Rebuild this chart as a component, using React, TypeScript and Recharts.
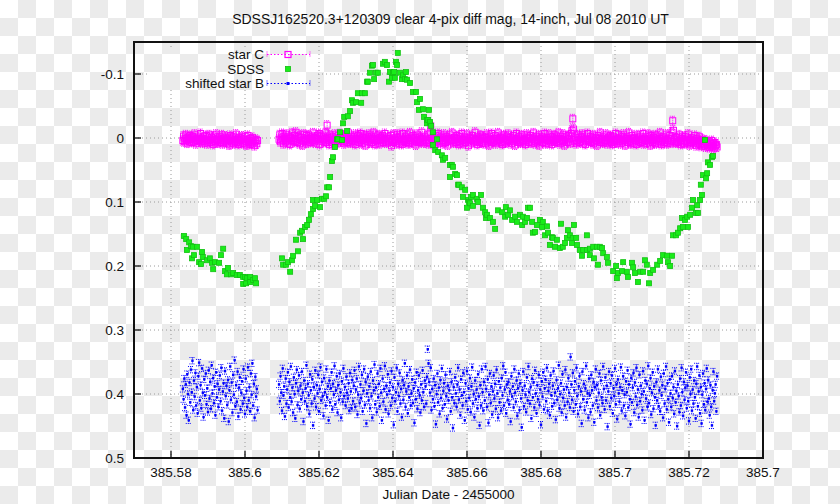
import React from 'react';
import { ScatterChart, Scatter, XAxis, YAxis, CartesianGrid, ErrorBar, ReferenceArea } from 'recharts';

const TITLE = 'SDSSJ162520.3+120309 clear 4-pix diff mag, 14-inch, Jul 08 2010 UT';
const X_LABEL = 'Julian Date - 2455000';

const X_DOMAIN = [385.57, 385.74];
const Y_DOMAIN = [-0.15, 0.5];
const X_TICKS = [385.58, 385.6, 385.62, 385.64, 385.66, 385.68, 385.7, 385.72, 385.74];
const X_TICK_LABELS = ['385.58', '385.6', '385.62', '385.64', '385.66', '385.68', '385.7', '385.72', '385.7'];
const Y_TICKS = [-0.1, 0, 0.1, 0.2, 0.3, 0.4, 0.5];
const Y_TICK_LABELS = ['-0.1', '0', '0.1', '0.2', '0.3', '0.4', '0.5'];

// frame times shared by the two comparison stars
const FRAME_JD = [
  385.5832, 385.5834, 385.5836, 385.5838, 385.5840, 385.5842, 385.5844, 385.5846, 385.5848, 385.5850,
  385.5852, 385.5854, 385.5856, 385.5858, 385.5860, 385.5862, 385.5864, 385.5866, 385.5868, 385.5870,
  385.5872, 385.5874, 385.5876, 385.5878, 385.5880, 385.5882, 385.5884, 385.5886, 385.5888, 385.5890,
  385.5892, 385.5894, 385.5896, 385.5898, 385.5900, 385.5902, 385.5904, 385.5906, 385.5908, 385.5910,
  385.5912, 385.5914, 385.5916, 385.5918, 385.5920, 385.5922, 385.5924, 385.5926, 385.5928, 385.5930,
  385.5932, 385.5934, 385.5936, 385.5938, 385.5940, 385.5942, 385.5944, 385.5946, 385.5948, 385.5950,
  385.5952, 385.5954, 385.5956, 385.5958, 385.5960, 385.5962, 385.5964, 385.5966, 385.5968, 385.5970,
  385.5972, 385.5974, 385.5976, 385.5978, 385.5980, 385.5982, 385.5984, 385.5986, 385.5988, 385.5990,
  385.5992, 385.5994, 385.5996, 385.5998, 385.6000, 385.6002, 385.6004, 385.6006, 385.6008, 385.6010,
  385.6012, 385.6014, 385.6016, 385.6018, 385.6020, 385.6022, 385.6024, 385.6026, 385.6028, 385.6030,
  385.6032, 385.6034,
  385.6092, 385.6094, 385.6096, 385.6098, 385.6100, 385.6102, 385.6104, 385.6106, 385.6108, 385.6110,
  385.6112, 385.6114, 385.6116, 385.6118, 385.6120, 385.6122, 385.6124, 385.6126, 385.6128, 385.6130,
  385.6132, 385.6134, 385.6136, 385.6138, 385.6140, 385.6142, 385.6144, 385.6146, 385.6148, 385.6150,
  385.6152, 385.6154, 385.6156, 385.6158, 385.6160, 385.6162, 385.6164, 385.6166, 385.6168, 385.6170,
  385.6172, 385.6174, 385.6176, 385.6178, 385.6180, 385.6182, 385.6184, 385.6186, 385.6188, 385.6190,
  385.6192, 385.6194, 385.6196, 385.6198, 385.6200, 385.6202, 385.6204, 385.6206, 385.6208, 385.6210,
  385.6212, 385.6214, 385.6216, 385.6218, 385.6220, 385.6222, 385.6224, 385.6226, 385.6228, 385.6230,
  385.6232, 385.6234, 385.6236, 385.6238, 385.6240, 385.6242, 385.6244, 385.6246, 385.6248, 385.6250,
  385.6252, 385.6254, 385.6256, 385.6258, 385.6260, 385.6262, 385.6264, 385.6266, 385.6268, 385.6270,
  385.6272, 385.6274, 385.6276, 385.6278, 385.6280, 385.6282, 385.6284, 385.6286, 385.6288, 385.6290,
  385.6292, 385.6294, 385.6296, 385.6298, 385.6300, 385.6302, 385.6304, 385.6306, 385.6308, 385.6310,
  385.6312, 385.6314, 385.6316, 385.6318, 385.6320, 385.6322, 385.6324, 385.6326, 385.6328, 385.6330,
  385.6332, 385.6334, 385.6336, 385.6338, 385.6340, 385.6342, 385.6344, 385.6346, 385.6348, 385.6350,
  385.6352, 385.6354, 385.6356, 385.6358, 385.6360, 385.6362, 385.6364, 385.6366, 385.6368, 385.6370,
  385.6372, 385.6374, 385.6376, 385.6378, 385.6380, 385.6382, 385.6384, 385.6386, 385.6388, 385.6390,
  385.6392, 385.6394, 385.6396, 385.6398, 385.6400, 385.6402, 385.6404, 385.6406, 385.6408, 385.6410,
  385.6412, 385.6414, 385.6416, 385.6418, 385.6420, 385.6422, 385.6424, 385.6426, 385.6428, 385.6430,
  385.6432, 385.6434, 385.6436, 385.6438, 385.6440, 385.6442, 385.6444, 385.6446, 385.6448, 385.6450,
  385.6452, 385.6454, 385.6456, 385.6458, 385.6460, 385.6462, 385.6464, 385.6466, 385.6468, 385.6470,
  385.6472, 385.6474, 385.6476, 385.6478, 385.6480, 385.6482, 385.6484, 385.6486, 385.6488, 385.6490,
  385.6492, 385.6494, 385.6496, 385.6498, 385.6500, 385.6502, 385.6504, 385.6506, 385.6508, 385.6510,
  385.6512, 385.6514, 385.6516, 385.6518, 385.6520, 385.6522, 385.6524, 385.6526, 385.6528, 385.6530,
  385.6532, 385.6534, 385.6536, 385.6538, 385.6540, 385.6542, 385.6544, 385.6546, 385.6548, 385.6550,
  385.6552, 385.6554, 385.6556, 385.6558, 385.6560, 385.6562, 385.6564, 385.6566, 385.6568, 385.6570,
  385.6572, 385.6574, 385.6576, 385.6578, 385.6580, 385.6582, 385.6584, 385.6586, 385.6588, 385.6590,
  385.6592, 385.6594, 385.6596, 385.6598, 385.6600, 385.6602, 385.6604, 385.6606, 385.6608, 385.6610,
  385.6612, 385.6614, 385.6616, 385.6618, 385.6620, 385.6622, 385.6624, 385.6626, 385.6628, 385.6630,
  385.6632, 385.6634, 385.6636, 385.6638, 385.6640, 385.6642, 385.6644, 385.6646, 385.6648, 385.6650,
  385.6652, 385.6654, 385.6656, 385.6658, 385.6660, 385.6662, 385.6664, 385.6666, 385.6668, 385.6670,
  385.6672, 385.6674, 385.6676, 385.6678, 385.6680, 385.6682, 385.6684, 385.6686, 385.6688, 385.6690,
  385.6692, 385.6694, 385.6696, 385.6698, 385.6700, 385.6702, 385.6704, 385.6706, 385.6708, 385.6710,
  385.6712, 385.6714, 385.6716, 385.6718, 385.6720, 385.6722, 385.6724, 385.6726, 385.6728, 385.6730,
  385.6732, 385.6734, 385.6736, 385.6738, 385.6740, 385.6742, 385.6744, 385.6746, 385.6748, 385.6750,
  385.6752, 385.6754, 385.6756, 385.6758, 385.6760, 385.6762, 385.6764, 385.6766, 385.6768, 385.6770,
  385.6772, 385.6774, 385.6776, 385.6778, 385.6780, 385.6782, 385.6784, 385.6786, 385.6788, 385.6790,
  385.6792, 385.6794, 385.6796, 385.6798, 385.6800, 385.6802, 385.6804, 385.6806, 385.6808, 385.6810,
  385.6812, 385.6814, 385.6816, 385.6818, 385.6820, 385.6822, 385.6824, 385.6826, 385.6828, 385.6830,
  385.6832, 385.6834, 385.6836, 385.6838, 385.6840, 385.6842, 385.6844, 385.6846, 385.6848, 385.6850,
  385.6852, 385.6854, 385.6856, 385.6858, 385.6860, 385.6862, 385.6864, 385.6866, 385.6868, 385.6870,
  385.6872, 385.6874, 385.6876, 385.6878, 385.6880, 385.6882, 385.6884, 385.6886, 385.6888, 385.6890,
  385.6892, 385.6894, 385.6896, 385.6898, 385.6900, 385.6902, 385.6904, 385.6906, 385.6908, 385.6910,
  385.6912, 385.6914, 385.6916, 385.6918, 385.6920, 385.6922, 385.6924, 385.6926, 385.6928, 385.6930,
  385.6932, 385.6934, 385.6936, 385.6938, 385.6940, 385.6942, 385.6944, 385.6946, 385.6948, 385.6950,
  385.6952, 385.6954, 385.6956, 385.6958, 385.6960, 385.6962, 385.6964, 385.6966, 385.6968, 385.6970,
  385.6972, 385.6974, 385.6976, 385.6978, 385.6980, 385.6982, 385.6984, 385.6986, 385.6988, 385.6990,
  385.6992, 385.6994, 385.6996, 385.6998, 385.7000, 385.7002, 385.7004, 385.7006, 385.7008, 385.7010,
  385.7012, 385.7014, 385.7016, 385.7018, 385.7020, 385.7022, 385.7024, 385.7026, 385.7028, 385.7030,
  385.7032, 385.7034, 385.7036, 385.7038, 385.7040, 385.7042, 385.7044, 385.7046, 385.7048, 385.7050,
  385.7052, 385.7054, 385.7056, 385.7058, 385.7060, 385.7062, 385.7064, 385.7066, 385.7068, 385.7070,
  385.7072, 385.7074, 385.7076, 385.7078, 385.7080, 385.7082, 385.7084, 385.7086, 385.7088, 385.7090,
  385.7092, 385.7094, 385.7096, 385.7098, 385.7100, 385.7102, 385.7104, 385.7106, 385.7108, 385.7110,
  385.7112, 385.7114, 385.7116, 385.7118, 385.7120, 385.7122, 385.7124, 385.7126, 385.7128, 385.7130,
  385.7132, 385.7134, 385.7136, 385.7138, 385.7140, 385.7142, 385.7144, 385.7146, 385.7148, 385.7150,
  385.7152, 385.7154, 385.7156, 385.7158, 385.7160, 385.7162, 385.7164, 385.7166, 385.7168, 385.7170,
  385.7172, 385.7174, 385.7176, 385.7178, 385.7180, 385.7182, 385.7184, 385.7186, 385.7188, 385.7190,
  385.7192, 385.7194, 385.7196, 385.7198, 385.7200, 385.7202, 385.7204, 385.7206, 385.7208, 385.7210,
  385.7212, 385.7214, 385.7216, 385.7218, 385.7220, 385.7222, 385.7224, 385.7226, 385.7228, 385.7230,
  385.7232, 385.7234, 385.7236, 385.7238, 385.7240, 385.7242, 385.7244, 385.7246, 385.7248, 385.7250,
  385.7252, 385.7254, 385.7256, 385.7258, 385.7260, 385.7262, 385.7264, 385.7266, 385.7268, 385.7270,
  385.7272, 385.7274, 385.7276,
];

const STAR_C_MAG = [
  0.004, -0.003, 0.006, 0.001, -0.005, 0.003, 0.008, -0.001, 0.002, 0.005,
  -0.004, 0.002, 0.007, -0.002, 0.000, 0.005, -0.006, 0.003, 0.009, 0.001,
  0.004, -0.003, 0.006, 0.002, -0.007, 0.005, 0.001, 0.008, -0.002, 0.003,
  0.006, -0.004, 0.002, 0.009, 0.000, 0.004, -0.005, 0.007, 0.002, -0.001,
  0.005, 0.010, -0.003, 0.003, 0.006, -0.006, 0.002, 0.008, 0.000, 0.004,
  -0.002, 0.007, 0.003, -0.005, 0.009, 0.001, 0.005, -0.003, 0.006, 0.002,
  0.008, -0.001, 0.004, 0.011, -0.004, 0.003, 0.006, 0.000, 0.009, -0.002,
  0.005, 0.002, -0.006, 0.007, 0.003, 0.010, -0.001, 0.004, 0.008, 0.001,
  -0.003, 0.006, 0.002, 0.009, -0.002, 0.005, 0.011, 0.003, -0.004, 0.007,
  0.004, 0.010, 0.001, 0.006, -0.001, 0.008, 0.003, 0.012, 0.005, 0.002,
  0.009, 0.004,
  0.002, -0.005, 0.006, 0.000, -0.007, 0.004, 0.009, -0.002, 0.001, 0.005,
  -0.006, 0.003, 0.008, -0.003, 0.000, 0.010, -0.001, 0.004, -0.008, 0.006,
  0.001, -0.004, 0.005, -0.009, 0.003, 0.007, -0.002, 0.000, 0.009, -0.005,
  0.004, -0.001, 0.011, 0.006, -0.006, 0.002, 0.005, -0.004, 0.008, 0.001,
  -0.005, 0.003, 0.000, 0.007, -0.002, 0.004, -0.008, 0.002, 0.006, -0.001,
  0.008, 0.001, -0.004, 0.003, -0.007, 0.010, 0.000, -0.003, 0.005, 0.002,
  -0.003, 0.006, 0.001, -0.008, 0.007, -0.020, -0.001, 0.004, 0.010, -0.005,
  0.002, 0.007, -0.002, 0.000, 0.005, 0.011, -0.006, 0.003, 0.001, 0.008,
  -0.004, 0.004, 0.000, -0.007, 0.006, 0.002, -0.002, 0.005, 0.009, -0.001,
  0.003, -0.005, 0.001, 0.007, -0.008, 0.004, 0.000, 0.008, -0.003, 0.003,
  0.006, -0.002, 0.003, 0.010, -0.006, 0.001, 0.005, -0.004, 0.007, 0.000,
  -0.007, 0.004, 0.009, -0.001, 0.002, 0.006, -0.005, 0.011, 0.001, -0.003,
  0.005, 0.000, -0.006, 0.008, 0.003, -0.002, 0.007, 0.001, -0.008, 0.004,
  0.010, -0.003, 0.002, 0.006, -0.005, 0.003, 0.009, -0.001, 0.004, 0.000,
  -0.004, 0.007, 0.002, -0.007, 0.005, 0.001, 0.008, -0.002, 0.006, 0.003,
  0.001, -0.004, 0.012, 0.004, 0.007, -0.006, 0.002, 0.005, -0.001, 0.009,
  -0.006, 0.003, 0.000, 0.008, -0.003, 0.005, 0.010, -0.007, 0.002, 0.006,
  0.003, -0.002, 0.007, -0.005, 0.001, 0.009, 0.004, -0.008, 0.006, 0.000,
  0.008, -0.004, 0.002, 0.005, -0.001, 0.011, 0.003, -0.006, 0.004, 0.007,
  -0.002, 0.006, 0.001, -0.009, 0.005, 0.002, 0.008, -0.003, 0.000, 0.004,
  0.007, -0.005, 0.003, 0.009, -0.008, -0.019, 0.001, 0.006, -0.002, 0.004,
  0.010, 0.000, -0.004, 0.005, 0.002, -0.007, 0.008, 0.003, -0.001, 0.006,
  -0.003, 0.004, 0.009, -0.006, 0.001, 0.007, -0.002, 0.005, 0.011, 0.000,
  0.003, -0.005, 0.006, 0.002, -0.008, 0.004, 0.008, -0.001, 0.002, 0.007,
  -0.004, 0.001, 0.005, 0.010, -0.003, 0.006, 0.000, -0.007, 0.004, 0.009,
  0.002, -0.002, 0.007, 0.003, -0.006, 0.005, 0.012, -0.001, 0.001, 0.004,
  0.008, -0.004, 0.000, 0.006, 0.003, -0.009, 0.005, 0.002, 0.010, -0.002,
  0.004, 0.007, -0.005, 0.001, 0.008, -0.003, 0.003, 0.006, -0.001, 0.009,
  0.000, -0.006, 0.005, 0.002, 0.011, -0.002, 0.004, -0.007, 0.007, 0.001,
  0.006, 0.003, -0.004, 0.009, 0.000, 0.005, -0.008, 0.004, 0.002, -0.001,
  0.007, -0.003, 0.010, 0.001, -0.005, 0.006, 0.003, 0.008, -0.002, 0.004,
  -0.006, 0.002, 0.005, -0.001, 0.009, 0.000, 0.006, -0.004, 0.003, 0.011,
  0.001, -0.007, 0.004, 0.007, -0.002, 0.005, 0.000, 0.008, -0.005, 0.003,
  0.006, 0.002, -0.003, 0.010, 0.004, -0.006, 0.001, 0.007, -0.001, 0.005,
  -0.004, 0.008, 0.003, 0.000, -0.008, 0.006, 0.002, 0.009, -0.002, 0.004,
  0.005, -0.005, 0.011, 0.001, 0.003, -0.003, 0.007, 0.000, 0.006, -0.007,
  0.002, 0.009, -0.001, 0.004, 0.008, -0.006, 0.003, 0.005, -0.002, 0.010,
  0.000, 0.004, -0.005, 0.007, 0.002, -0.003, 0.006, 0.001, -0.008, 0.005,
  0.009, -0.002, 0.003, 0.006, -0.006, 0.004, 0.011, 0.000, -0.003, 0.007,
  0.002, -0.004, 0.005, 0.001, 0.008, -0.007, -0.012, -0.030, -0.014, 0.003,
  0.006, -0.001, 0.009, 0.004, -0.005, 0.002, 0.007, -0.002, 0.005, 0.000,
  -0.006, 0.008, 0.003, -0.003, 0.010, 0.001, 0.005, -0.007, 0.004, 0.006,
  0.002, -0.002, 0.007, 0.000, -0.005, 0.009, 0.003, 0.006, -0.001, 0.004,
  0.011, -0.004, 0.001, 0.005, -0.008, 0.007, 0.002, 0.000, 0.008, -0.003,
  0.004, 0.006, -0.006, 0.003, 0.009, -0.001, 0.005, 0.002, -0.004, 0.007,
  0.000, 0.010, -0.002, 0.004, 0.006, -0.007, 0.003, 0.008, 0.001, -0.005,
  0.005, 0.002, 0.009, -0.003, 0.006, 0.000, -0.006, 0.004, 0.011, 0.001,
  -0.002, 0.007, 0.003, -0.008, 0.005, 0.009, 0.001, -0.004, 0.006, 0.002,
  0.008, -0.001, 0.004, 0.010, -0.005, 0.003, 0.006, 0.000, -0.003, 0.007,
  0.002, 0.005, -0.007, 0.009, 0.001, 0.004, -0.002, 0.008, 0.003, -0.006,
  0.006, 0.000, 0.011, -0.004, 0.004, 0.007, -0.001, 0.002, 0.009, -0.005,
  0.003, 0.008, -0.003, 0.005, 0.001, -0.008, 0.006, 0.010, 0.000, 0.004,
  -0.002, 0.007, 0.002, -0.006, 0.009, 0.004, 0.001, 0.006, -0.004, 0.008,
  0.003, -0.009, -0.027, -0.012, 0.005, 0.002, 0.008, -0.001, 0.006, 0.000,
  0.007, -0.005, 0.004, 0.010, 0.001, -0.002, 0.006, 0.003, 0.009, -0.003,
  0.005, 0.000, 0.008, -0.006, 0.004, 0.011, 0.002, 0.007, -0.001, 0.005,
  0.009, 0.003, -0.004, 0.006, 0.012, 0.001, 0.008, 0.004, -0.002, 0.010,
  0.006, 0.013, 0.002, 0.009, 0.005, 0.011, 0.003, 0.014, 0.007, 0.010,
  0.012, 0.006, 0.015, 0.008, 0.011, 0.004, 0.013, 0.009, 0.016, 0.007,
  0.012, 0.010, 0.014,
];

const STAR_B_MAG = [
  0.392, 0.408, 0.376, 0.421, 0.385, 0.433, 0.369, 0.400, 0.441, 0.382,
  0.413, 0.362, 0.397, 0.348, 0.425, 0.379, 0.404, 0.367, 0.418, 0.389,
  0.430, 0.372, 0.351, 0.410, 0.386, 0.422, 0.360, 0.398, 0.436, 0.377,
  0.402, 0.368, 0.416, 0.391, 0.428, 0.363, 0.407, 0.381, 0.423, 0.355,
  0.399, 0.375, 0.414, 0.388, 0.433, 0.366, 0.405, 0.384, 0.420, 0.393,
  0.371, 0.411, 0.359, 0.426, 0.396, 0.383, 0.438, 0.364, 0.403, 0.387,
  0.417, 0.378, 0.443, 0.394, 0.357, 0.409, 0.382, 0.429, 0.370, 0.401,
  0.347, 0.419, 0.386, 0.412, 0.365, 0.435, 0.390, 0.374, 0.424, 0.398,
  0.380, 0.415, 0.361, 0.406, 0.431, 0.376, 0.395, 0.420, 0.358, 0.410,
  0.389, 0.427, 0.368, 0.401, 0.352, 0.418, 0.384, 0.437, 0.373, 0.404,
  0.392, 0.425,
  0.385, 0.411, 0.372, 0.398, 0.426, 0.360, 0.402, 0.388, 0.435, 0.376,
  0.415, 0.393, 0.366, 0.421, 0.381, 0.405, 0.357, 0.412, 0.390, 0.429,
  0.374, 0.400, 0.438, 0.383, 0.362, 0.417, 0.395, 0.371, 0.423, 0.387,
  0.408, 0.365, 0.398, 0.443, 0.379, 0.411, 0.391, 0.355, 0.419, 0.384,
  0.402, 0.431, 0.369, 0.394, 0.415, 0.377, 0.449, 0.389, 0.407, 0.363,
  0.420, 0.386, 0.399, 0.370, 0.427, 0.392, 0.358, 0.410, 0.381, 0.403,
  0.434, 0.375, 0.397, 0.418, 0.361, 0.405, 0.388, 0.441, 0.379, 0.413,
  0.391, 0.366, 0.424, 0.384, 0.401, 0.356, 0.416, 0.394, 0.372, 0.429,
  0.386, 0.409, 0.368, 0.397, 0.437, 0.380, 0.412, 0.360, 0.403, 0.389,
  0.418, 0.373, 0.398, 0.407, 0.383, 0.426, 0.367, 0.396, 0.422, 0.378,
  0.411, 0.387, 0.363, 0.420, 0.393, 0.376, 0.432, 0.401, 0.357, 0.414,
  0.385, 0.406, 0.370, 0.427, 0.395, 0.361, 0.417, 0.381, 0.446, 0.399,
  0.373, 0.410, 0.388, 0.422, 0.365, 0.403, 0.437, 0.379, 0.394, 0.354,
  0.416, 0.390, 0.428, 0.368, 0.405, 0.384, 0.419, 0.360, 0.398, 0.441,
  0.376, 0.412, 0.392, 0.356, 0.424, 0.387, 0.401, 0.369, 0.431, 0.395,
  0.382, 0.418, 0.364, 0.406, 0.389, 0.448, 0.374, 0.411, 0.397, 0.359,
  0.427, 0.384, 0.403, 0.367, 0.415, 0.392, 0.436, 0.378, 0.409, 0.386,
  0.352, 0.420, 0.396, 0.371, 0.430, 0.388, 0.405, 0.362, 0.418, 0.399,
  0.377, 0.414, 0.391, 0.445, 0.382, 0.408, 0.366, 0.423, 0.394, 0.371,
  0.402, 0.429, 0.385, 0.410, 0.363, 0.397, 0.420, 0.379, 0.388, 0.415,
  0.373, 0.330, 0.352, 0.381, 0.398, 0.359, 0.425, 0.392, 0.408, 0.376,
  0.419, 0.386, 0.447, 0.400, 0.368, 0.413, 0.390, 0.431, 0.378, 0.406,
  0.360, 0.422, 0.395, 0.383, 0.416, 0.370, 0.403, 0.439, 0.387, 0.410,
  0.394, 0.365, 0.427, 0.381, 0.405, 0.453, 0.389, 0.414, 0.374, 0.399,
  0.420, 0.385, 0.359, 0.409, 0.393, 0.433, 0.377, 0.402, 0.418, 0.367,
  0.397, 0.441, 0.383, 0.411, 0.364, 0.424, 0.391, 0.406, 0.375, 0.428,
  0.388, 0.358, 0.415, 0.400, 0.436, 0.379, 0.408, 0.393, 0.422, 0.369,
  0.404, 0.449, 0.386, 0.418, 0.361, 0.397, 0.426, 0.381, 0.410, 0.357,
  0.392, 0.420, 0.377, 0.445, 0.401, 0.368, 0.414, 0.388, 0.432, 0.396,
  0.371, 0.407, 0.384, 0.423, 0.362, 0.399, 0.437, 0.380, 0.413, 0.390,
  0.426, 0.375, 0.402, 0.356, 0.418, 0.393, 0.366, 0.430, 0.385, 0.409,
  0.381, 0.416, 0.396, 0.443, 0.372, 0.404, 0.388, 0.421, 0.361, 0.398,
  0.412, 0.379, 0.434, 0.391, 0.368, 0.425, 0.383, 0.407, 0.452, 0.394,
  0.365, 0.419, 0.387, 0.401, 0.428, 0.374, 0.410, 0.357, 0.397, 0.415,
  0.389, 0.438, 0.376, 0.405, 0.382, 0.421, 0.363, 0.399, 0.430, 0.386,
  0.408, 0.370, 0.417, 0.393, 0.448, 0.380, 0.404, 0.366, 0.424, 0.391,
  0.377, 0.411, 0.359, 0.426, 0.395, 0.384, 0.433, 0.371, 0.402, 0.419,
  0.387, 0.364, 0.414, 0.398, 0.440, 0.378, 0.409, 0.391, 0.355, 0.422,
  0.400, 0.383, 0.429, 0.369, 0.406, 0.393, 0.418, 0.362, 0.436, 0.389,
  0.412, 0.375, 0.398, 0.421, 0.342, 0.385, 0.409, 0.367, 0.427, 0.394,
  0.380, 0.416, 0.359, 0.403, 0.431, 0.388, 0.372, 0.420, 0.396, 0.446,
  0.365, 0.408, 0.384, 0.425, 0.391, 0.356, 0.413, 0.399, 0.437, 0.376,
  0.402, 0.428, 0.370, 0.394, 0.418, 0.381, 0.444, 0.389, 0.361, 0.410,
  0.386, 0.421, 0.398, 0.368, 0.433, 0.379, 0.405, 0.414, 0.357, 0.392,
  0.424, 0.374, 0.410, 0.387, 0.451, 0.396, 0.365, 0.419, 0.383, 0.406,
  0.371, 0.430, 0.391, 0.403, 0.360, 0.416, 0.385, 0.439, 0.377, 0.399,
  0.412, 0.389, 0.358, 0.426, 0.394, 0.372, 0.418, 0.401, 0.434, 0.380,
  0.397, 0.363, 0.421, 0.385, 0.408, 0.447, 0.375, 0.413, 0.390, 0.367,
  0.429, 0.382, 0.404, 0.359, 0.417, 0.393, 0.436, 0.370, 0.411, 0.387,
  0.400, 0.425, 0.364, 0.396, 0.441, 0.379, 0.407, 0.384, 0.420, 0.356,
  0.414, 0.391, 0.375, 0.432, 0.398, 0.366, 0.423, 0.388, 0.405, 0.449,
  0.381, 0.410, 0.361, 0.419, 0.394, 0.427, 0.373, 0.402, 0.386, 0.437,
  0.368, 0.415, 0.392, 0.357, 0.424, 0.383, 0.408, 0.444, 0.377, 0.399,
  0.420, 0.372, 0.406, 0.389, 0.431, 0.364, 0.413, 0.395, 0.450, 0.385,
  0.403, 0.428, 0.376, 0.418, 0.359, 0.397, 0.434, 0.381, 0.409, 0.390,
  0.366, 0.422, 0.387, 0.411, 0.442, 0.374, 0.400, 0.361, 0.426, 0.393,
  0.415, 0.379, 0.405, 0.438, 0.384, 0.357, 0.419, 0.396, 0.371, 0.430,
  0.389, 0.446, 0.401, 0.368, 0.416, 0.383, 0.425, 0.392, 0.360, 0.412,
  0.378, 0.407, 0.433, 0.386, 0.420, 0.449, 0.394, 0.365, 0.411, 0.399,
  0.385, 0.427, 0.372,
];

const STAR_C_ERR = 0.007;
const STAR_B_ERR = 0.005;

const SDSS_JD = [
  385.5835, 385.5841, 385.5843, 385.5849, 385.5854, 385.5857, 385.5859, 385.5862, 385.5870, 385.5876,
  385.5881, 385.5884, 385.5886, 385.5897, 385.5905, 385.5911, 385.5914, 385.5919, 385.5930, 385.5935,
  385.5941, 385.5946, 385.5951, 385.5954, 385.5962, 385.5968, 385.5978, 385.5986, 385.5995, 385.5995,
  385.6000, 385.6003, 385.6005, 385.6014, 385.6014, 385.6022, 385.6027, 385.6030,
  385.6100, 385.6103, 385.6111, 385.6116, 385.6122, 385.6127, 385.6130, 385.6138, 385.6143, 385.6149,
  385.6154, 385.6157, 385.6162, 385.6168, 385.6173, 385.6178, 385.6184, 385.6184, 385.6189, 385.6195,
  385.6203, 385.6208, 385.6214, 385.6219, 385.6222, 385.6227, 385.6230, 385.6235, 385.6238, 385.6243,
  385.6249, 385.6251, 385.6257, 385.6262, 385.6265, 385.6268, 385.6276, 385.6278, 385.6284, 385.6289,
  385.6292, 385.6300, 385.6305, 385.6314, 385.6316, 385.6324, 385.6330, 385.6332, 385.6338, 385.6343,
  385.6346, 385.6349, 385.6354, 385.6359, 385.6373, 385.6378, 385.6384, 385.6389, 385.6392, 385.6397,
  385.6400, 385.6403, 385.6405, 385.6408, 385.6411, 385.6413, 385.6419, 385.6424, 385.6427, 385.6432,
  385.6435, 385.6438, 385.6446, 385.6454, 385.6462, 385.6465, 385.6470, 385.6473, 385.6481, 385.6484,
  385.6492, 385.6492, 385.6495, 385.6497, 385.6500, 385.6503, 385.6508, 385.6508, 385.6514, 385.6519,
  385.6522, 385.6532, 385.6535, 385.6541, 385.6554, 385.6554, 385.6559, 385.6562, 385.6568, 385.6573,
  385.6576, 385.6578, 385.6586, 385.6589, 385.6595, 385.6600, 385.6603, 385.6605, 385.6608, 385.6611,
  385.6616, 385.6616, 385.6627, 385.6630, 385.6638, 385.6643, 385.6649, 385.6651, 385.6654, 385.6662,
  385.6670, 385.6676, 385.6684, 385.6695, 385.6703, 385.6705, 385.6711, 385.6716, 385.6722, 385.6730,
  385.6735, 385.6743, 385.6749, 385.6751, 385.6757, 385.6762, 385.6765, 385.6770, 385.6776, 385.6778,
  385.6784, 385.6789, 385.6797, 385.6803, 385.6805, 385.6811, 385.6816, 385.6819, 385.6824, 385.6830,
  385.6832, 385.6838, 385.6843, 385.6851, 385.6854, 385.6859, 385.6865, 385.6870, 385.6873, 385.6878,
  385.6884, 385.6886, 385.6889, 385.6895, 385.6897, 385.6905, 385.6911, 385.6914, 385.6924, 385.6924,
  385.6932, 385.6932, 385.6941, 385.6943, 385.6951, 385.6954, 385.6959, 385.6965, 385.6968, 385.6978,
  385.6981, 385.6995, 385.7003, 385.7005, 385.7008, 385.7019, 385.7022, 385.7032, 385.7035, 385.7046,
  385.7049, 385.7054, 385.7062, 385.7068, 385.7076, 385.7081, 385.7086, 385.7092, 385.7095, 385.7103,
  385.7114, 385.7122, 385.7130, 385.7141, 385.7143, 385.7149, 385.7154, 385.7157, 385.7165, 385.7170,
  385.7176, 385.7181, 385.7184, 385.7189, 385.7195, 385.7197, 385.7203, 385.7208, 385.7211, 385.7219,
  385.7222, 385.7224, 385.7230, 385.7232, 385.7235, 385.7238, 385.7243, 385.7246, 385.7249, 385.7251,
  385.7257, 385.7262, 385.7265,
];

const SDSS_MAG = [
  0.153, 0.158, 0.175, 0.163, 0.169, 0.188, 0.170, 0.183, 0.170, 0.194,
  0.197, 0.178, 0.186, 0.191, 0.188, 0.195, 0.205, 0.194, 0.195, 0.183,
  0.173, 0.208, 0.213, 0.203, 0.213, 0.211, 0.214, 0.214, 0.217, 0.228,
  0.217, 0.227, 0.219, 0.217, 0.225, 0.222, 0.219, 0.227,
  0.188, 0.198, 0.198, 0.194, 0.209, 0.191, 0.184, 0.159, 0.177, 0.148,
  0.145, 0.158, 0.139, 0.136, 0.128, 0.119, 0.111, 0.097, 0.106, 0.097,
  0.108, 0.095, 0.095, 0.091, 0.077, 0.077, 0.061, 0.036, 0.030, 0.014,
  0.002, 0.002, -0.009, 0.003, -0.023, -0.033, -0.011, -0.034, -0.042, -0.059,
  -0.055, -0.056, -0.070, -0.055, -0.070, -0.070, -0.088, -0.088, -0.102, -0.113,
  -0.114, -0.092, -0.102, -0.102, -0.116, -0.119, -0.114, -0.088, -0.103, -0.094,
  -0.102, -0.103, -0.094, -0.119, -0.114, -0.133, -0.102, -0.092, -0.098, -0.092,
  -0.103, -0.091, -0.086, -0.072, -0.072, -0.056, -0.044, -0.061, -0.045, -0.033,
  -0.028, -0.023, -0.028, -0.044, -0.025, -0.019, -0.009, 0.011, 0.019, 0.002,
  0.022, 0.027, 0.034, 0.031, 0.042, 0.061, 0.042, 0.045, 0.056, 0.058,
  0.073, 0.073, 0.077, 0.092, 0.081, 0.109, 0.097, 0.100, 0.102, 0.092,
  0.089, 0.106, 0.095, 0.100, 0.089, 0.109, 0.116, 0.125, 0.120, 0.125,
  0.131, 0.142, 0.113, 0.116, 0.123, 0.108, 0.120, 0.113, 0.128, 0.123,
  0.131, 0.120, 0.136, 0.123, 0.131, 0.125, 0.109, 0.109, 0.131, 0.148,
  0.147, 0.136, 0.128, 0.139, 0.131, 0.152, 0.138, 0.148, 0.167, 0.155,
  0.156, 0.170, 0.159, 0.172, 0.134, 0.170, 0.164, 0.156, 0.144, 0.152,
  0.164, 0.156, 0.136, 0.156, 0.167, 0.175, 0.184, 0.175, 0.175, 0.152,
  0.173, 0.183, 0.170, 0.188, 0.170, 0.198, 0.170, 0.172, 0.180, 0.186,
  0.195, 0.208, 0.200, 0.219, 0.211, 0.208, 0.194, 0.209, 0.217, 0.195,
  0.202, 0.211, 0.225, 0.209, 0.209, 0.191, 0.198, 0.227, 0.211, 0.206,
  0.198, 0.192, 0.183, 0.184, 0.194, 0.200, 0.184, 0.152, 0.152, 0.148,
  0.141, 0.125, 0.139, 0.128, 0.123, 0.139, 0.120, 0.109, 0.097, 0.117,
  0.105, 0.117, 0.097, 0.073, 0.089, 0.058, 0.003, 0.063, 0.055, 0.038,
  0.042, 0.030, 0.028,
];

const MAGENTA = '#ff00ff';
const GREEN = '#19ec19';
const BLUE = '#0000ff';
const INK = '#111111';
const FONT = '"Liberation Sans", Arial, Helvetica, sans-serif';
const CHECKER = 'repeating-conic-gradient(#ebebeb 0% 25%, #ffffff 0% 50%)';

const starC = FRAME_JD.map((t, i) => ({ t, mag: STAR_C_MAG[i], err: STAR_C_ERR }));
const starB = FRAME_JD.map((t, i) => ({ t, mag: STAR_B_MAG[i], err: STAR_B_ERR }));
const sdss = SDSS_JD.map((t, i) => ({ t, mag: SDSS_MAG[i] }));

const SERIES = [
  { name: 'star C', color: MAGENTA, kind: 'open' },
  { name: 'SDSS', color: GREEN, kind: 'filled' },
  { name: 'shifted star B', color: BLUE, kind: 'dot' },
];

const OpenSquare = (p: any) => (
  <rect x={p.cx - 3} y={p.cy - 3} width={6} height={6} fill="none" stroke={MAGENTA} strokeWidth={1} />
);
const FilledSquare = (p: any) => (
  <rect x={p.cx - 2.5} y={p.cy - 2.5} width={5} height={5} fill={GREEN} stroke="#12c012" strokeWidth={0.8} />
);
const BlueDot = (p: any) => (
  <rect x={p.cx - 1.2} y={p.cy - 1.2} width={2.4} height={2.4} fill={BLUE} />
);

const TICK_LEN = 7;

const BottomTick = (p: any) => (
  <g>
    <line x1={p.x} x2={p.x} y1={p.y} y2={p.y - TICK_LEN} stroke={INK} strokeWidth={1.3} />
    <text x={p.x} y={p.y + 19} textAnchor="middle" fill={INK} fontSize={13.5} fontFamily={FONT}>
      {X_TICK_LABELS[p.index]}
    </text>
  </g>
);
const TopTick = (p: any) => (
  <line x1={p.x} x2={p.x} y1={p.y} y2={p.y + TICK_LEN} stroke={INK} strokeWidth={1.3} />
);
const LeftTick = (p: any) => (
  <g>
    <line x1={p.x} x2={p.x + TICK_LEN} y1={p.y} y2={p.y} stroke={INK} strokeWidth={1.3} />
    <text x={p.x - 10} y={p.y + 4.8} textAnchor="end" fill={INK} fontSize={13.5} fontFamily={FONT}>
      {Y_TICK_LABELS[p.index]}
    </text>
  </g>
);
const RightTick = (p: any) => (
  <line x1={p.x - TICK_LEN} x2={p.x} y1={p.y} y2={p.y} stroke={INK} strokeWidth={1.3} />
);

const KeySwatch = ({ kind, color, y }: { kind: string; color: string; y: number }) => {
  const x0 = 117;
  const x1 = 160;
  const xm = 138;
  if (kind === 'filled') {
    return <rect x={xm - 2.5} y={y - 2.5} width={5} height={5} fill={color} stroke="#12c012" strokeWidth={0.8} />;
  }
  return (
    <g>
      <line x1={x0} x2={x1} y1={y} y2={y} stroke={color} strokeWidth={1.2} strokeDasharray="1.5 2" />
      <line x1={x0} x2={x0} y1={y - 3} y2={y + 3} stroke={color} strokeWidth={1} strokeDasharray="1 1" />
      <line x1={x1} x2={x1} y1={y - 3} y2={y + 3} stroke={color} strokeWidth={1} strokeDasharray="1 1" />
      {kind === 'open' ? (
        <rect x={xm - 3} y={y - 3} width={6} height={6} fill="none" stroke={color} strokeWidth={1.2} />
      ) : (
        <rect x={xm - 1.5} y={y - 1.5} width={3} height={3} fill={color} />
      )}
    </g>
  );
};

const PLOT_LEFT = 134;
const PLOT_WIDTH = 629;
const KEY_LEFT = 150;
const KEY_TOP = 49;
const KEY_ROW = 14.5;

export default function App() {
  return (
    <div
      style={{
        position: 'absolute',
        left: 0,
        top: 0,
        width: 840,
        height: 504,
        backgroundImage: CHECKER,
        backgroundSize: '36px 36px',
        fontFamily: FONT,
      }}
    >
      <div
        style={{
          position: 'absolute',
          left: PLOT_LEFT + 2,
          top: 11,
          width: PLOT_WIDTH,
          textAlign: 'center',
          fontSize: 14,
          lineHeight: '16px',
          color: INK,
          whiteSpace: 'nowrap',
        }}
      >
        {TITLE}
      </div>
      <ScatterChart width={840} height={504} margin={{ top: 42, right: 77, bottom: 0, left: 0 }}>
        <CartesianGrid stroke="#9a9a9a" strokeDasharray="1 3" strokeWidth={1} />
        <XAxis
          xAxisId={0}
          dataKey="t"
          type="number"
          domain={X_DOMAIN}
          ticks={X_TICKS}
          interval={0}
          height={46}
          tickSize={0}
          tickMargin={0}
          tickLine={false}
          tick={<BottomTick />}
          axisLine={false}
          label={{ value: X_LABEL, position: 'insideBottom', offset: 5, fill: INK, fontSize: 13.5, fontFamily: FONT }}
        />
        <XAxis
          xAxisId="top"
          orientation="top"
          dataKey="t"
          type="number"
          domain={X_DOMAIN}
          ticks={X_TICKS}
          interval={0}
          height={0}
          tickSize={0}
          tickMargin={0}
          tickLine={false}
          tick={<TopTick />}
          axisLine={false}
        />
        <YAxis
          yAxisId={0}
          dataKey="mag"
          type="number"
          reversed
          domain={Y_DOMAIN}
          ticks={Y_TICKS}
          interval={0}
          width={134}
          tickSize={0}
          tickMargin={0}
          tickLine={false}
          tick={<LeftTick />}
          axisLine={false}
        />
        <YAxis
          yAxisId="right"
          orientation="right"
          dataKey="mag"
          type="number"
          reversed
          domain={Y_DOMAIN}
          ticks={Y_TICKS}
          interval={0}
          width={0}
          tickSize={0}
          tickMargin={0}
          tickLine={false}
          tick={<RightTick />}
          axisLine={false}
        />
        <Scatter name="star C" data={starC} shape={OpenSquare} isAnimationActive={false}>
          <ErrorBar
            dataKey="err"
            direction="y"
            width={3}
            stroke={MAGENTA}
            strokeWidth={1}
            strokeDasharray="1 1"
            isAnimationActive={false}
          />
        </Scatter>
        <Scatter name="SDSS" data={sdss} shape={FilledSquare} isAnimationActive={false} />
        <Scatter name="shifted star B" data={starB} shape={BlueDot} isAnimationActive={false}>
          <ErrorBar
            dataKey="err"
            direction="y"
            width={3}
            stroke={BLUE}
            strokeWidth={1}
            strokeDasharray="1 1"
            isAnimationActive={false}
          />
        </Scatter>
        {/* plot border */}
        <ReferenceArea
          x1={X_DOMAIN[0]}
          x2={X_DOMAIN[1]}
          y1={Y_DOMAIN[0]}
          y2={Y_DOMAIN[1]}
          fill="none"
          fillOpacity={0}
          stroke={INK}
          strokeWidth={2}
          ifOverflow="visible"
        />
      </ScatterChart>

      {/* opaque key box: shows the page background and hides the grid behind it */}
      <div
        style={{
          position: 'absolute',
          left: KEY_LEFT,
          top: KEY_TOP,
          width: 167,
          height: 41,
          backgroundImage: CHECKER,
          backgroundSize: '36px 36px',
          backgroundPosition: `${-KEY_LEFT}px ${-KEY_TOP}px`,
        }}
      >
        <svg width={167} height={41} style={{ overflow: 'visible' }}>
          {SERIES.map((s, i) => (
            <g key={s.name}>
              <text
                x={114}
                y={5.5 + i * KEY_ROW + 4.7}
                textAnchor="end"
                fill={INK}
                fontSize={13.5}
                fontFamily={FONT}
              >
                {s.name}
              </text>
              <KeySwatch kind={s.kind} color={s.color} y={5.5 + i * KEY_ROW} />
            </g>
          ))}
        </svg>
      </div>
    </div>
  );
}
